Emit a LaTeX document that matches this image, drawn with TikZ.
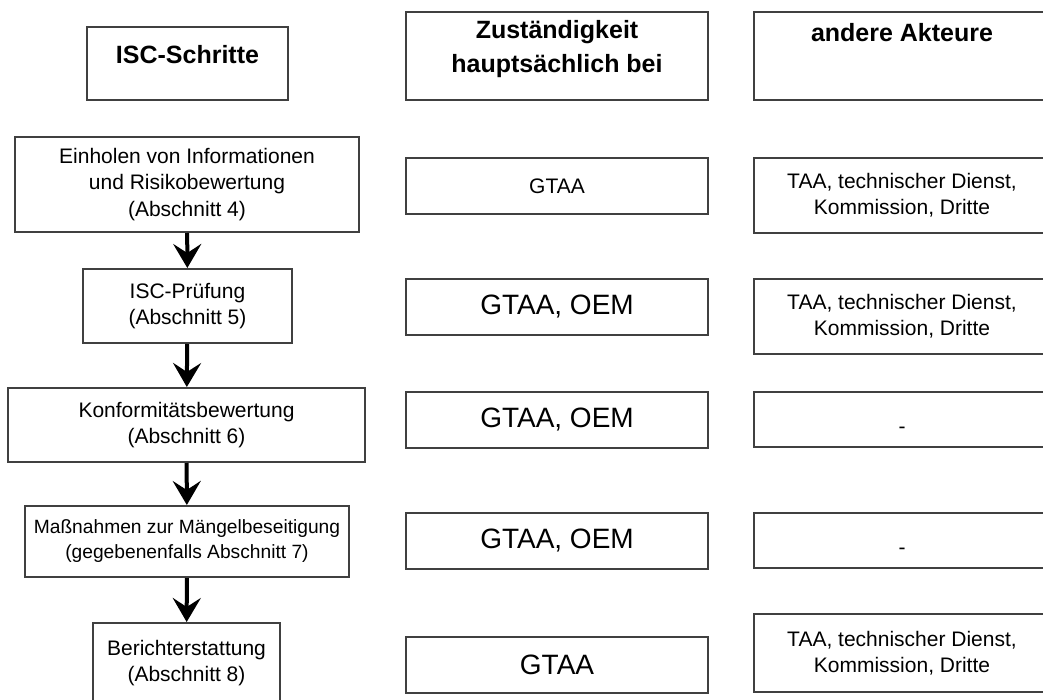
\documentclass[tikz,border=0pt]{standalone}
\usepackage{fontspec}
\setmainfont{Liberation Sans}
\usetikzlibrary{arrows.meta}

\begin{document}
\begin{tikzpicture}[x=0.5pt, y=-0.5pt, >={Stealth[length=12pt,width=14pt,inset=4.5pt]},
  bx/.style={rectangle,draw=black!75,line width=1pt,inner sep=0pt,align=center},
  hd/.style={bx,font=\fontsize{12.5}{17}\selectfont\bfseries,minimum height=44pt},
  stp/.style={bx,font=\fontsize{10.5}{13.25}\selectfont},
  res/.style={bx,minimum width=151pt,minimum height=28pt,font=\fontsize{14}{17}\selectfont},
  oth/.style={bx,minimum width=148pt,font=\fontsize{10.5}{13}\selectfont}]
  \useasboundingbox (0,0) rectangle (1043,700);
  % headers
  \node[hd,minimum width=100.5pt,minimum height=36.5pt,text height=9pt,text depth=8.5pt] (isc) at (187.5,63.5) {ISC-Schritte};
  \node[hd,minimum width=151pt,text depth=9.6pt] (zst) at (557,56) {Zuständigkeit\\hauptsächlich bei};
  \node[hd,minimum width=148pt,text height=9pt,text depth=23pt] (akt) at (902,56) {andere Akteure};
  % ISC steps
  \node[stp,minimum width=172pt,minimum height=47.5pt] (s1) at (187,184.5) {Einholen von Informationen\\und Risikobewertung\\(Abschnitt 4)};
  \node[stp,minimum width=104.5pt,minimum height=37pt] (s2) at (187.5,306) {ISC-Prüfung\\(Abschnitt 5)};
  \node[stp,minimum width=178.5pt,minimum height=37pt] (s3) at (186.5,425) {Konformitätsbewertung\\(Abschnitt 6)};
  \node[stp,minimum width=162pt,minimum height=35.5pt,font=\fontsize{9.6}{12.5}\selectfont] (s4) at (187,541.5) {Maßnahmen zur Mängelbeseitigung\\(gegebenenfalls Abschnitt 7)};
  \node[stp,minimum width=93.5pt,minimum height=40pt] (s5) at (186.5,663) {Berichterstattung\\(Abschnitt 8)};
  \foreach \a/\b in {s1/s2,s2/s3,s3/s4,s4/s5}
    \draw[->,line width=2pt] (\a) -- (\b);
  % responsibility
  \node[res,font=\fontsize{10.5}{13}\selectfont] (r1) at (557,186) {GTAA};
  \node[res] (r2) at (557,307) {GTAA, OEM};
  \node[res] (r3) at (557,419.5) {GTAA, OEM};
  \node[res] (r4) at (557,540.5) {GTAA, OEM};
  \node[res] (r5) at (557,664.5) {GTAA};
  % other actors
  \node[oth,minimum height=37.5pt] (o1) at (902,195.5) {TAA, technischer Dienst,\\Kommission, Dritte};
  \node[oth,minimum height=37.5pt] (o2) at (902,316.5) {TAA, technischer Dienst,\\Kommission, Dritte};
  \node[oth,minimum height=27.5pt,text height=13.6pt,text depth=0pt] (o3) at (902,419.5) {-};
  \node[oth,minimum height=27.5pt,text height=13.6pt,text depth=0pt] (o4) at (902,540.5) {-};
  \node[oth,minimum height=39pt] (o5) at (902,653) {TAA, technischer Dienst,\\Kommission, Dritte};
\end{tikzpicture}
\end{document}
